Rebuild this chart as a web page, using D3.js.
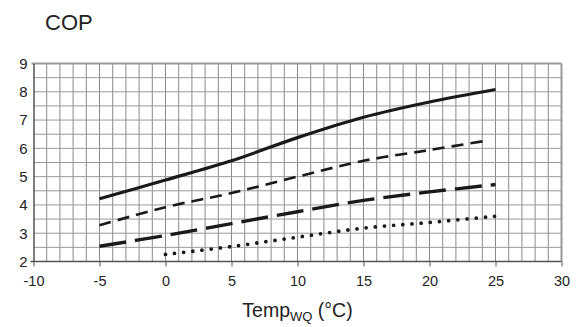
<!DOCTYPE html>
<html><head><meta charset="utf-8">
<script src="https://cdn.jsdelivr.net/npm/d3@7"></script>
<style>body{margin:0;background:#fff}svg{display:block}text{font-family:"Liberation Sans",Arial,sans-serif;fill:#222}</style>
</head><body><svg id="c" width="583" height="327"></svg>
<script>
const temps = [-5, 0, 5, 10, 15, 20, 25];
const solid = [4.22, 4.88, 5.56, 6.38, 7.1, 7.64, 8.08];
const shortDashT = [-5, 0, 5, 10, 15, 20, 24.3];
const shortDash = [3.28, 3.92, 4.42, 5.0, 5.56, 5.94, 6.27];
const longDash = [2.54, 2.92, 3.34, 3.76, 4.16, 4.46, 4.72];
const dottedT = [0, 5, 10, 15, 20, 25];
const dotted = [2.25, 2.53, 2.86, 3.18, 3.38, 3.6];
const xTicks = [-10, -5, 0, 5, 10, 15, 20, 25, 30];
const yTicks = [2, 3, 4, 5, 6, 7, 8, 9];

const svg = d3.select("#c");
const x = d3.scaleLinear().domain([-10, 30]).range([33.5, 561.5]);
const y = d3.scaleLinear().domain([2, 9]).range([261.5, 63.5]);
const fmt = d => String(d);

// grid
const g = svg.append("g");
g.selectAll(".vg").data(d3.range(-9, 30, 1)).join("line")
  .attr("x1", d => x(d)).attr("x2", d => x(d)).attr("y1", y(9)).attr("y2", y(2))
  .attr("stroke", "#8a8a8a").attr("stroke-width", 1);
g.selectAll(".hg").data(d3.range(2.5, 9, 0.5)).join("line")
  .attr("x1", x(-10)).attr("x2", x(30)).attr("y1", d => y(d)).attr("y2", d => y(d))
  .attr("stroke", "#9a9a9a").attr("stroke-width", 1);
g.append("line").attr("x1", x(-10) - 2).attr("x2", x(30)).attr("y1", y(9)).attr("y2", y(9)).attr("stroke", "#999").attr("stroke-width", 2);
g.append("line").attr("x1", x(30)).attr("x2", x(30)).attr("y1", y(9)).attr("y2", y(2)).attr("stroke", "#999").attr("stroke-width", 2);

// axes
const xAxis = svg.append("g").attr("transform", `translate(0,${y(2)})`)
  .call(d3.axisBottom(x).tickValues(xTicks).tickSize(5).tickPadding(9).tickFormat(fmt));
xAxis.select(".domain").attr("stroke", "#555").attr("stroke-width", 1.5).attr("d", `M${x(-10)-3},0H${x(30)}`);
xAxis.selectAll(".tick line").attr("stroke", "#555");
xAxis.selectAll("text").attr("font-size", 14.5).attr("fill", "#222").attr("font-family", "Liberation Sans, Arial, sans-serif");

const yAxis = svg.append("g").attr("transform", `translate(${x(-10)},0)`)
  .call(d3.axisLeft(y).tickValues(yTicks).tickSize(0).tickPadding(6).tickFormat(fmt));
yAxis.select(".domain").attr("stroke", "#555").attr("stroke-width", 1.5);
yAxis.selectAll("text").attr("font-size", 15).attr("fill", "#222").attr("font-family", "Liberation Sans, Arial, sans-serif");

// lines
const line = d3.line().curve(d3.curveCatmullRom).x(d => x(d[0])).y(d => y(d[1]));
const L = svg.append("g").attr("fill", "none").attr("stroke", "#1a1a1a");
L.append("path").attr("d", line(d3.zip(temps, solid))).attr("stroke-width", 3.2);
L.append("path").attr("d", line(d3.zip(shortDashT, shortDash))).attr("stroke-width", 2.6).attr("stroke-dasharray", "12,7");
L.append("path").attr("d", line(d3.zip(temps, longDash))).attr("stroke-width", 3.4).attr("stroke-dasharray", "27,9");
L.append("path").attr("d", line(d3.zip(dottedT, dotted))).attr("stroke-width", 3.8).attr("stroke-linecap", "round").attr("stroke-dasharray", "0,9.2");

// titles
svg.append("text").attr("x", 45).attr("y", 29.5).attr("font-size", 22).text("COP");
const t = svg.append("text").attr("x", 297.5).attr("y", 316.5).attr("text-anchor", "middle").attr("font-size", 19.5);
t.append("tspan").text("Temp");
t.append("tspan").attr("font-size", 13).attr("dy", 4).text("WQ");
t.append("tspan").attr("dy", -4).text(" (°C)");
</script></body></html>
